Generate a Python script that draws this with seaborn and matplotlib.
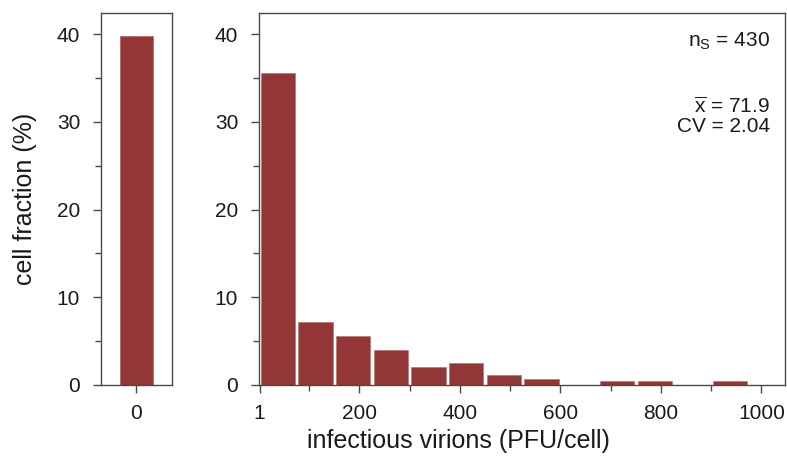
import numpy as np
import pandas as pd
import matplotlib
matplotlib.use("Agg")
import matplotlib.pyplot as plt
import seaborn as sns
from matplotlib.ticker import MultipleLocator, FixedLocator

# ---- data ----
zero_label = ["0"]
zero_pct = [39.8]
bin_edges = [0, 75, 150, 225, 300, 375, 450, 525, 600, 675, 750, 825, 900, 975]
bin_pct = [35.58, 7.21, 5.58, 3.95, 2.09, 2.56, 1.16, 0.70, 0.0, 0.47, 0.47, 0.0, 0.47]
x_ticks = [1, 200, 400, 600, 800, 1000]
x_minor = [100, 300, 500, 700, 900]
y_ticks = [0, 10, 20, 30, 40]
stats_lines = [r"n$_{\rm S}$ = 430", r"$\overline{\rm x}$ = 71.9", "CV = 2.04"]

bar_color = "#933636"
spine_color = "#4a4a4a"
text_color = "#1a1a1a"

sns.set_style("ticks")
plt.rcParams["font.family"] = ["Liberation Sans", "DejaVu Sans"]
plt.rcParams["mathtext.fontset"] = "custom"
plt.rcParams["mathtext.rm"] = "Liberation Sans"
plt.rcParams["mathtext.it"] = "Liberation Sans:italic"
plt.rcParams["mathtext.default"] = "rm"

fig = plt.figure(figsize=(7.87, 4.58), dpi=100)
axL = fig.add_axes([0.1283, 0.1594, 0.0902, 0.8122])
axR = fig.add_axes([0.3291, 0.1594, 0.6684, 0.8122])

# left panel: zero-virion cells
df0 = pd.DataFrame({"k": zero_label, "pct": zero_pct})
sns.barplot(data=df0, x="k", y="pct", ax=axL, color=bar_color, width=0.46,
            saturation=1, edgecolor="#b86a6a", linewidth=0.6)
axL.set_xlim(-0.5, 0.5)

# right panel: histogram
centers = [(bin_edges[i] + bin_edges[i + 1]) / 2 for i in range(len(bin_pct))]
sns.histplot(x=centers, weights=bin_pct, bins=bin_edges, ax=axR, color=bar_color,
             alpha=1, shrink=0.91, edgecolor="#b86a6a", linewidth=0.4)
axR.set_xlim(0, 1047)

for ax in (axL, axR):
    ax.set_ylim(0, 42.4)
    ax.set_yticks(y_ticks)
    ax.yaxis.set_minor_locator(MultipleLocator(5))
    for s in ax.spines.values():
        s.set_visible(True)
        s.set_color(spine_color)
        s.set_linewidth(1.0)
    ax.tick_params(which="major", direction="out", length=5.5, width=1,
                   color=spine_color, labelsize=15, labelcolor=text_color)
    ax.tick_params(which="minor", direction="out", length=4, width=1, color=spine_color)
    ax.tick_params(axis="y", which="major", pad=9.5)
    ax.tick_params(axis="x", which="major", pad=8.5)
    ax.set_ylabel("")
    ax.set_xlabel("")

axR.set_xticks(x_ticks)
axR.xaxis.set_minor_locator(FixedLocator(x_minor))

axL.set_ylabel("cell fraction (%)", fontsize=18, color=text_color)
axL.yaxis.set_label_coords(-0.90, 0.5)
axR.set_xlabel("infectious virions (PFU/cell)", fontsize=18, color=text_color)
axR.xaxis.set_label_coords(0.379, -0.118)

ys = [0.909, 0.731, 0.680]
for line, y in zip(stats_lines, ys):
    axR.text(0.9715, y, line, transform=axR.transAxes, ha="right", va="baseline",
             fontsize=15, color=text_color)

fig.savefig("out.png", dpi=100)
